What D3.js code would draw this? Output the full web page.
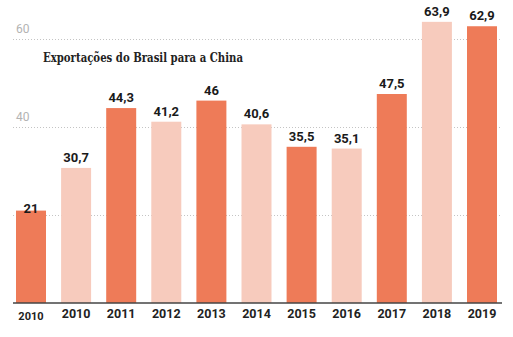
<!DOCTYPE html>
<html>
<head>
<meta charset="utf-8">
<script src="https://cdn.jsdelivr.net/npm/d3@7"></script>
<style>
  body { margin: 0; background: #fff; }
  .tick-label { font-family: Roboto, sans-serif; font-size: 12px; fill: #b3b3b3; }
  .title { font-family: "DejaVu Serif", serif; font-weight: bold; font-size: 12px; fill: #222; }
  .value { font-family: Roboto, sans-serif; font-weight: bold; font-size: 13px; fill: #1a1a1a; }
  .year { font-family: Roboto, sans-serif; font-weight: bold; font-size: 12.5px; fill: #222; }
</style>
</head>
<body>
<svg width="513" height="337"></svg>
<script>
const years = ['2010', '2010', '2011', '2012', '2013', '2014', '2015', '2016', '2017', '2018', '2019'];
const values = [21, 30.7, 44.3, 41.2, 46, 40.6, 35.5, 35.1, 47.5, 63.9, 62.9];
const gridTicks = [20, 40, 60];
const tickLabels = [40, 60];

const svg = d3.select('svg');
const dark = '#ee7b58';
const light = '#f7cbbd';

const data = years.map((y, i) => ({ key: i, year: y, value: values[i] }));

const xScale = d3.scaleBand()
    .domain(data.map(d => d.key))
    .range([16, 497])
    .paddingInner(0.335)
    .paddingOuter(0);

const yScale = d3.scaleLinear()
    .domain([0, 60])
    .range([303, 39]);

// linhas de grade pontilhadas (ficam atrás das barras)
const grid = svg.append('g');
grid.selectAll('line').data(gridTicks)
  .enter().append('line')
    .attr('x1', 13).attr('x2', 502)
    .attr('y1', d => yScale(d) + 0.5).attr('y2', d => yScale(d) + 0.5)
    .attr('stroke', '#c4c4c4')
    .attr('stroke-width', 1)
    .attr('stroke-dasharray', '1,2');

grid.selectAll('text').data(tickLabels)
  .enter().append('text')
    .attr('class', 'tick-label')
    .attr('x', 16)
    .attr('y', d => yScale(d) - 6)
    .text(d => d);

svg.append('text')
    .attr('class', 'title')
    .attr('x', 43)
    .attr('y', 62)
    .attr('textLength', 200)
    .attr('lengthAdjust', 'spacingAndGlyphs')
    .text('Exportações do Brasil para a China');

svg.selectAll('rect').data(data)
  .enter().append('rect')
    .attr('x', d => xScale(d.key))
    .attr('y', d => yScale(d.value))
    .attr('width', xScale.bandwidth())
    .attr('height', d => yScale(0) - yScale(d.value))
    .attr('fill', (d, i) => i % 2 === 0 ? dark : light);

const fmt = v => String(v).replace('.', ',');

svg.selectAll('.value').data(data)
  .enter().append('text')
    .attr('class', 'value')
    .attr('text-anchor', 'middle')
    .attr('x', d => xScale(d.key) + xScale.bandwidth() / 2)
    .attr('y', d => d.value < 25 ? yScale(d.value) + 2 : yScale(d.value) - 6)
    .text(d => fmt(d.value));

// eixo x
svg.append('line')
    .attr('x1', 13).attr('x2', 502)
    .attr('y1', yScale(0)).attr('y2', yScale(0))
    .attr('stroke', '#444')
    .attr('stroke-width', 1.5);

svg.selectAll('.year').data(data)
  .enter().append('text')
    .attr('class', 'year')
    .attr('text-anchor', 'middle')
    .attr('x', d => xScale(d.key) + xScale.bandwidth() / 2)
    .attr('y', (d, i) => i === 0 ? 320 : 318)
    .style('font-size', (d, i) => i === 0 ? '11px' : null)
    .text(d => d.year);
</script>
</body>
</html>
